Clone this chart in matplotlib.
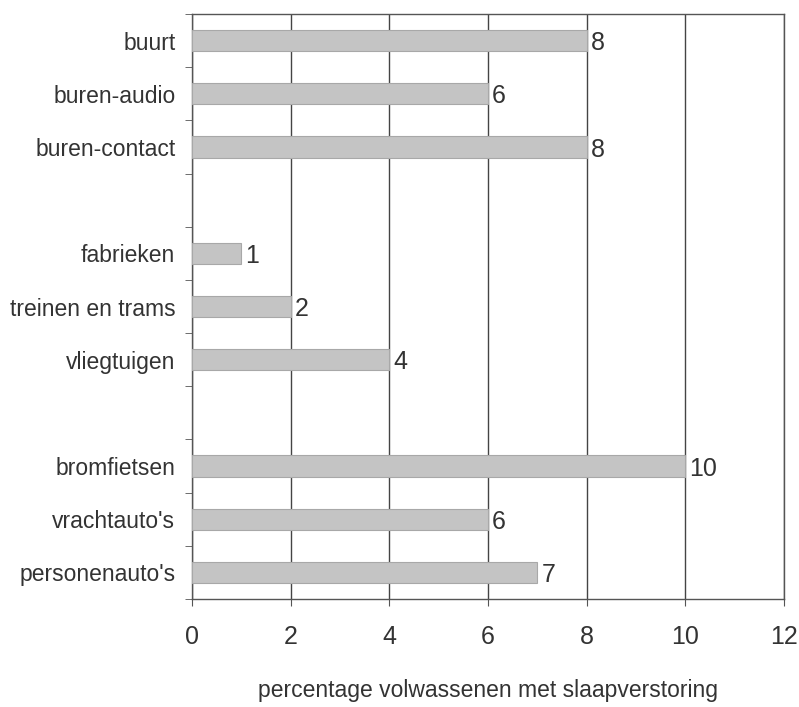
import matplotlib.pyplot as plt
import numpy as np

# categories top to bottom, None = empty slot between groups
categories = ["buurt", "buren-audio", "buren-contact", None,
              "fabrieken", "treinen en trams", "vliegtuigen", None,
              "bromfietsen", "vrachtauto's", "personenauto's"]
values = [8, 6, 8, None, 1, 2, 4, None, 10, 6, 7]
xticks = [0, 2, 4, 6, 8, 10, 12]

plt.rcParams['font.family'] = ['Liberation Sans', 'DejaVu Sans']

fig = plt.figure(figsize=(7.99, 7.07), dpi=100)
ax = fig.add_axes([0.2403, 0.1527, 0.9812 - 0.2403, 0.9802 - 0.1527])

n = len(categories)
ypos = np.arange(n)
for y, c, v in zip(ypos, categories, values):
    if c is None:
        continue
    ax.barh(y, v, height=0.4, color='#c4c4c4', edgecolor='#a8a8a8', linewidth=0.8, zorder=3)
    ax.text(v + 0.08, y + 0.05, str(v), va='center', ha='left', fontsize=18, color='#333333', zorder=4)

ax.set_ylim(n - 0.5, -0.5)
ax.set_xlim(0, 12)
ax.set_xticks(xticks)
ax.set_xticklabels([str(t) for t in xticks], fontsize=18, color='#333333')
ax.set_yticks(ypos)
ax.set_yticklabels([c if c else "" for c in categories], fontsize=16.5, color='#333333')
ax.tick_params(axis='y', which='major', length=0, pad=12)
ax.set_yticks(np.arange(n + 1) - 0.5, minor=True)
ax.tick_params(axis='y', which='minor', length=5, color='#555555', direction='out')
ax.tick_params(axis='x', length=5, color='#555555', direction='out', pad=14)

ax.xaxis.grid(True, color='#444444', linewidth=1.0, zorder=1)
ax.set_axisbelow(True)
for s in ax.spines.values():
    s.set_color('#555555')
    s.set_linewidth(1.0)

ax.set_xlabel("percentage volwassenen met slaapverstoring", fontsize=16.5, color='#333333', labelpad=21)

fig.savefig("out.png", dpi=100)
